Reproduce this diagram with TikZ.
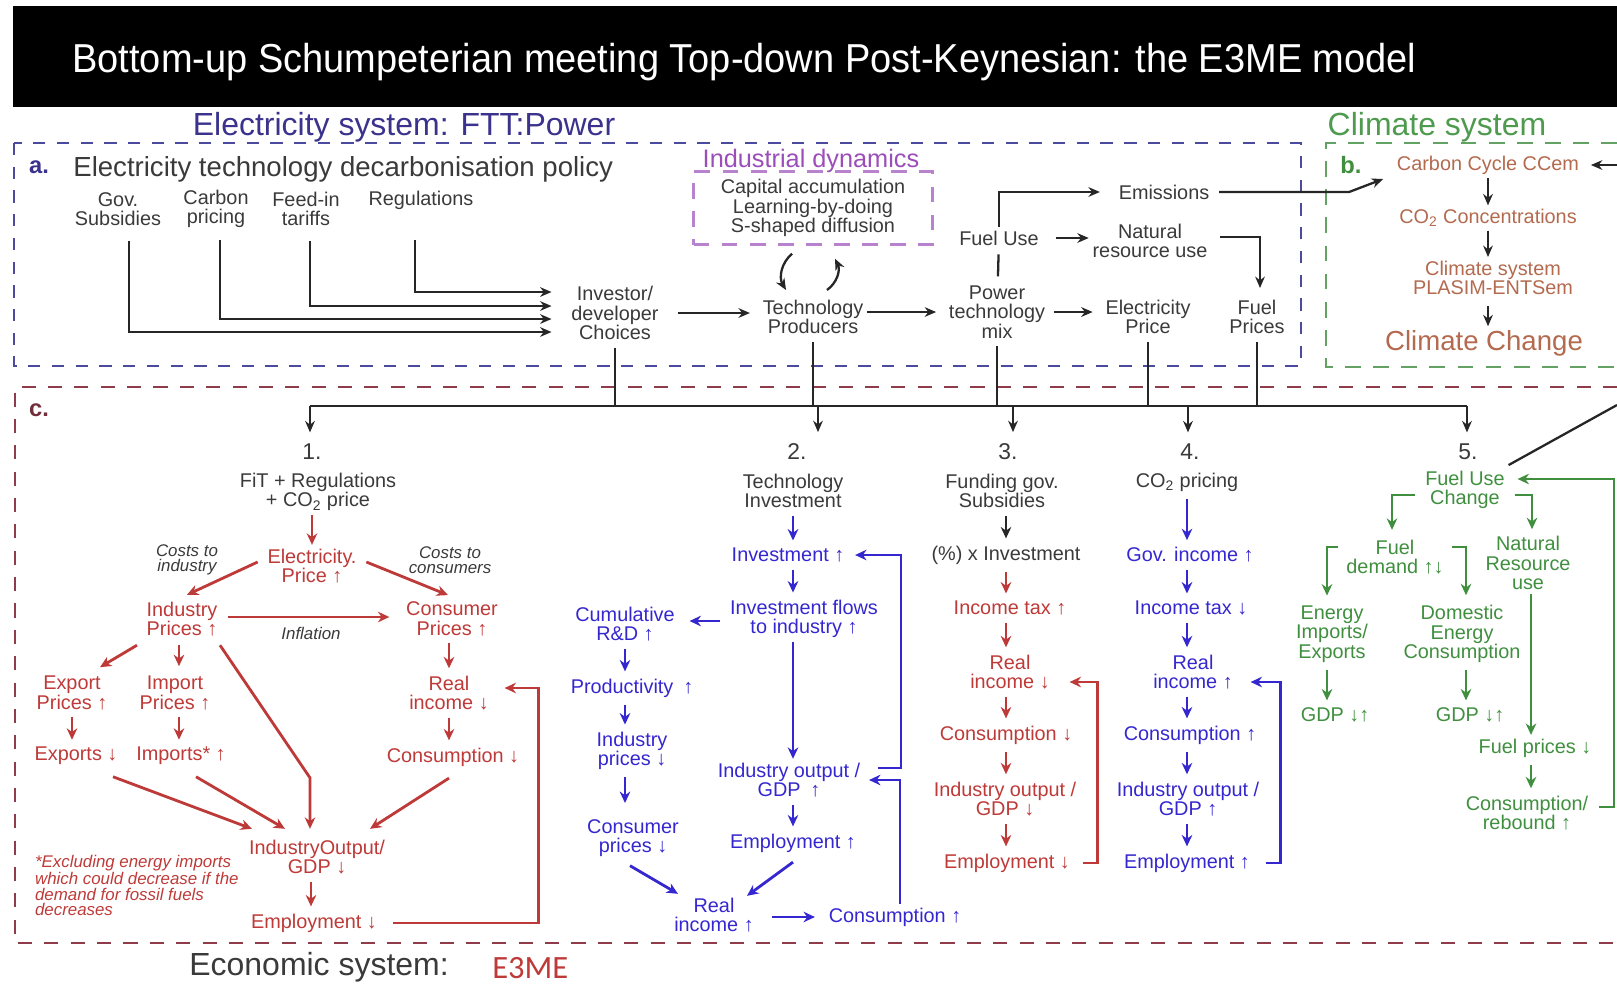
\documentclass[tikz,border=0pt]{standalone}
\usepackage{fontspec}
\setmainfont{Liberation Sans}
\newfontfamily\titlefont[FakeStretch=0.94]{Liberation Sans}
\newfontfamily\calfont{Carlito}
\usetikzlibrary{positioning,calc,arrows.meta}

\definecolor{fttblue}{HTML}{3A328C}
\definecolor{dasha}{HTML}{4B4A9E}
\definecolor{climgreen}{HTML}{4E9A4E}
\definecolor{dashb}{HTML}{62A262}
\definecolor{dashc}{HTML}{8E3B4A}
\definecolor{ered}{HTML}{BE3A38}
\definecolor{eblue}{HTML}{3527D0}
\definecolor{egreen}{HTML}{3F8F3F}
\definecolor{sienna}{HTML}{B36A4E}
\definecolor{dynpurple}{HTML}{9B4DB8}
\definecolor{txtgray}{HTML}{3A3A3A}

\newcommand{\itemfont}{\fontsize{11.3}{11.2}\selectfont}
\newcommand{\notefont}{\fontsize{9.6}{8.8}\selectfont\itshape}

\begin{document}
\begin{tikzpicture}[x=0.02cm, y=-0.02cm,
      itm/.style      = {align=center, inner sep=2pt, font=\itemfont, text=txtgray},
      redtxt/.style   = {itm, text=ered},
      bluetxt/.style  = {itm, text=eblue},
      greentxt/.style = {itm, text=egreen},
      cctxt/.style    = {itm, text=sienna},
      note/.style     = {align=center, inner sep=1pt, font=\notefont, text=txtgray},
      num/.style      = {inner sep=1pt, font=\fontsize{13}{13}\selectfont, text=txtgray},
      sect/.style     = {inner sep=0pt, font=\fontsize{18.2}{18}\selectfont},
      tag/.style      = {inner sep=0pt, font=\fontsize{13.5}{13}\selectfont\bfseries},
      blk/.style      = {draw=black!85, line width=1.3pt},
      blkarr/.style   = {blk, -{Stealth[length=6.5pt, width=5.5pt]}},
      colarr/.style   = {line width=1.6pt, -{Stealth[length=6.5pt, width=6pt]}},
      redarr/.style   = {colarr, draw=ered},
      bluearr/.style  = {colarr, draw=eblue},
      greenarr/.style = {colarr, draw=egreen, line width=1.4pt},
      blkcol/.style   = {colarr, draw=black!85},
      colgap/.style   = {shorten <=2pt, shorten >=2pt},
      dashbox/.style  = {line width=1.5pt, dash pattern=on 7pt off 6.5pt}]

   \useasboundingbox (0,0) rectangle (1617,985);

   % title bar
   \fill[black] (13,6) rectangle (1617,107);
   \node[anchor=base west, inner sep=0pt, text=white,
      font=\titlefont\fontsize{23}{23}\selectfont] (title) at (72,72)
      {Bottom-up Schumpeterian meeting Top-down Post-Keynesian: the E3ME model};

   % the three systems
   \draw[dashbox, draw=dasha] (14,143) rectangle (1301,366);
   \draw[dashbox, draw=dashb, dash pattern=on 9pt off 7pt]
      (1617,143) -- (1326,143) -- (1326,367) -- (1617,367);
   \draw[dashbox, draw=dashc, dash pattern=on 8pt off 7pt]
      (1617,387) -- (15,387) -- (15,943) -- (1617,943);

   \node[sect, text=fttblue, anchor=base] (ftt) at (404,135) {Electricity system: FTT:Power};
   \node[sect, text=climgreen, anchor=base] (clim) at (1437,135) {Climate system};
   \node[sect, text=txtgray, anchor=base west] (econ) at (189,975) {Economic system:};
   \node[anchor=base west, inner sep=0pt, text=ered,
      font=\calfont\fontsize{18.5}{18}\selectfont] (e3me) at (492,978) {E3ME};

   \node[tag, text=fttblue] (taga) at (39,167) {a.};
   \node[tag, text=egreen] (tagb) at (1351,165) {b.};
   \node[tag, text=dashc!80!black] (tagc) at (39,410) {c.};

   % a. electricity sector
   \node[anchor=base west, inner sep=0pt, text=txtgray,
      font=\fontsize{15.7}{15}\selectfont] (policy) at (73,176)
      {Electricity technology decarbonisation policy};

   \node[itm] (gov)    at (118,209) {Gov.\\Subsidies};
   \node[itm] (carbon) at (216,209) {Carbon\\pricing};
   \node[itm] (feedin) at (306,209) {Feed-in\\tariffs};
   \node[itm] (regs)   at (421,200) {Regulations};

   \node[itm] (invest)    at (615,313) {Investor/\\developer\\Choices};
   \node[itm] (techprod)  at (813,317) {Technology\\Producers};
   \node[itm] (powermix)  at (997,312) {Power\\technology\\mix};
   \node[itm] (elprice)   at (1148,317) {Electricity\\Price};
   \node[itm] (fuelprice) at (1257,317) {Fuel\\Prices};
   \node[itm] (fueluse)   at (999,238) {Fuel Use};
   \node[itm] (emis)      at (1164,192) {Emissions};
   \node[itm] (natres)    at (1150,241) {Natural\\resource use};

   \node[anchor=base, inner sep=0pt, text=dynpurple,
      font=\fontsize{14.4}{14}\selectfont] (dynlbl) at (811,167) {Industrial dynamics};
   \node[itm, draw=dynpurple!70, line width=1.4pt, dash pattern=on 9pt off 7pt,
      minimum width=4.78cm, minimum height=1.46cm] (dyn) at (813,208)
      {Capital accumulation\\Learning-by-doing\\S-shaped diffusion};

   % policy instruments into investor choices
   \draw[blkarr] ($(gov.south)+(11,11)$)    |- ($(invest.west)+(-16,19)$);
   \draw[blkarr] ($(carbon.south)+(4,8)$)   |- ($(invest.west)+(-16,6)$);
   \draw[blkarr] ($(feedin.south)+(4,11)$)  |- ($(invest.west)+(-16,-7)$);
   \draw[blkarr] ($(regs.south)+(-6,27)$)   |- ($(invest.west)+(-16,-21)$);

   \draw[blkarr] ($(invest.east)+(16,0)$) -- ($(techprod.west |- invest.east)+(-9,0)$);
   \draw[blkarr] (techprod.east |- powermix.west) -- ($(powermix.west)+(-9,0)$);
   \draw[blkarr] ($(powermix.east)+(5,0)$) -- ($(elprice.west |- powermix.east)+(-9,0)$);
   \draw[blk, shorten <=3pt, shorten >=3pt] (powermix) -- (fueluse);
   \draw[blkarr] (fueluse.north) |- ($(emis.west)+(-15,0)$);
   \draw[blkarr] ($(fueluse.east)+(13,0)$) -- (natres.west |- fueluse.east);
   \draw[blkarr] ($(natres.east)+(9,-4)$) -| ($(fuelprice.north)+(3,-8)$);

   % learning loop
   \draw[blkarr] ($(dyn.south)+(-21,8)$) to[bend right=40] ($(techprod.north)+(-27,-6)$);
   \draw[blkarr] ($(techprod.north)+(14,-6)$) to[bend right=40] ($(dyn.south)+(22,13)$);

   % b. climate system
   \node[cctxt] (ccycle)  at (1488,165) {Carbon Cycle CCem};
   \node[cctxt] (co2conc) at (1488,218) {CO\textsubscript{2} Concentrations};
   \node[cctxt] (climsys) at (1493,278) {Climate system\\PLASIM-ENTSem};
   \node[cctxt, font=\fontsize{15.7}{15}\selectfont] (climchg) at (1484,343) {Climate Change};

   \draw[blkarr] ($(emis.east)+(6,0)$) -- ++(130,0) -- ($(ccycle.west)+(-10,14)$);
   \coordinate (ccin) at (1617,165);
   \draw[blkarr] (ccin) -- ($(ccycle.east)+(8,0)$);
   \draw[blkarr] (ccycle.south) -- (co2conc.north);
   \draw[blkarr] (co2conc.south) -- (ccycle |- climsys.north);
   \draw[blkarr, shorten <=4pt] (ccycle |- climsys.south) -- (ccycle |- climchg.north);

   % bus down to the five channels
   \coordinate (bus1) at (310,406);
   \coordinate (bus2) at (818,406);
   \coordinate (bus3) at (1013,406);
   \coordinate (bus4) at (1188,406);
   \coordinate (bus5) at (1467,406);
   \draw[blk] (bus1) -- (bus5);
   \foreach \n in {invest, techprod, powermix, elprice, fuelprice}
      \draw[blk] ($(\n.south)+(0,4)$) -- (\n.south |- bus1);

   \node[num, anchor=base] (num1) at (312,459) {1.};
   \node[num, anchor=base] (num2) at (797,459) {2.};
   \node[num, anchor=base] (num3) at (1008,459) {3.};
   \node[num, anchor=base] (num4) at (1190,459) {4.};
   \node[num, anchor=base] (num5) at (1468,459) {5.};
   \foreach \k in {1,...,5}
      \draw[blkarr, shorten >=5pt] (bus\k) -- (bus\k |- num\k.north);

   % c.1 FiT, regulations and carbon price
   \node[itm]    (fit)     at (318,492) {FiT + Regulations\\+ CO\textsubscript{2} price};
   \node[redtxt] (elec)    at (312,566) {Electricity.\\Price ↑};
   \node[note]   (cti)     at (187,560) {Costs to\\industry};
   \node[note]   (ctc)     at (450,560) {Costs to\\consumers};
   \node[redtxt] (indp)    at (182,619) {Industry\\Prices ↑};
   \node[redtxt] (conp)    at (452,619) {Consumer\\Prices ↑};
   \node[note]   (infl)    at (311,633) {Inflation};
   \node[redtxt] (expp)    at (72,693)  {Export\\Prices ↑};
   \node[redtxt] (impp)    at (175,693) {Import\\Prices ↑};
   \node[redtxt] (exps)    at (76,756)  {Exports ↓};
   \node[redtxt] (imps)    at (181,756) {Imports* ↑};
   \node[redtxt] (real1)   at (449,693) {Real\\income ↓};
   \node[redtxt] (cons1)   at (453,757) {Consumption ↓};
   \node[redtxt] (indout1) at (317,857) {IndustryOutput/\\GDP ↓};
   \node[redtxt] (emp1)    at (314,923) {Employment ↓};
   \node[note, text=ered, align=left, anchor=north west] (foot) at (33,853)
      {*Excluding energy imports\\which could decrease if the\\demand for fossil fuels\\decreases};

   \draw[redarr] (fit.south -| elec.north) -- (elec.north);
   \draw[redarr] ($(elec.west)+(-6,-4)$) -- ($(indp.north)+(5,-3)$);
   \draw[redarr] ($(elec.east)+(6,-4)$) -- ($(conp.north)+(-4,-3)$);
   \draw[redarr] ($(indp.east)+(7,-2)$) -- ($(conp.west)+(-13,-2)$);
   \draw[redarr] ($(indp.south)+(-45,5)$) -- ($(expp.north)+(28,-5)$);
   \draw[redarr] ($(indp.south)+(-3,5)$) -- ($(impp.north)+(4,-6)$);
   \draw[redarr] ($(indp.south)+(38,5)$) -- ($(indout1.north)+(-7,-58)$)
      -- ($(indout1.north)+(-7,-7)$);
   \draw[redarr, colgap] (conp.south -| real1.north) -- (real1.north);
   \draw[redarr, colgap] (expp.south) -- (expp.south |- exps.north);
   \draw[redarr, colgap] ($(impp.south)+(4,0)$) -- ($(impp.south |- imps.north)+(4,0)$);
   \draw[redarr, colgap] (real1.south) -- (real1.south |- cons1.north);
   \draw[redarr] ($(exps.south)+(37,8)$) -- ($(indout1.north)+(-65,-7)$);
   \draw[redarr] ($(imps.south)+(15,8)$) -- ($(indout1.north)+(-32,-7)$);
   \draw[redarr] ($(cons1.south)+(-4,8)$) -- ($(indout1.north)+(53,-7)$);
   \draw[redarr, colgap] ($(indout1.south)+(-6,0)$) -- ($(indout1.south |- emp1.north)+(-6,0)$);
   \draw[redarr] ($(emp1.east)+(12,0)$) -- ++(146,0) |- ($(real1.east)+(12,-5)$);

   % c.2 technology investment
   \node[itm]     (techinv) at (793,491) {Technology\\Investment};
   \node[bluetxt] (inv2)    at (788,555) {Investment ↑};
   \node[bluetxt] (flows)   at (804,619) {Investment flows\\to industry ↑};
   \node[bluetxt] (cumrd)   at (625,624) {Cumulative\\R\&D ↑};
   \node[bluetxt] (prod)    at (632,688) {Productivity\enspace↑};
   \node[bluetxt] (indpr2)  at (632,751) {Industry\\prices ↓};
   \node[bluetxt] (conpr2)  at (633,838) {Consumer\\prices ↓};
   \node[bluetxt] (real2)   at (714,915) {Real\\income ↑};
   \node[bluetxt] (indout2) at (789,780) {Industry output /\\GDP\enspace↑};
   \node[bluetxt] (emp2)    at (793,843) {Employment ↑};
   \node[bluetxt] (cons2)   at (895,917) {Consumption ↑};

   \draw[bluearr, colgap] (techinv) -- (techinv |- inv2.north);
   \draw[bluearr, colgap] (inv2.south -| techinv) -- (techinv |- flows.north);
   \draw[bluearr] ($(flows.west)+(-6,2)$) -- ($(cumrd.east |- flows.west)+(11,2)$);
   \draw[bluearr, colgap] (cumrd.south) -- (cumrd.south |- prod.north);
   \draw[bluearr, colgap] (cumrd.south |- prod.south) -- (cumrd.south |- indpr2.north);
   \draw[bluearr, shorten <=2pt, shorten >=7pt] (cumrd.south |- indpr2.south)
      -- (cumrd.south |- conpr2.north);
   \draw[bluearr] ($(conpr2.south)+(-3,5)$) -- ($(real2.north)+(-36,0)$);
   \draw[bluearr] ($(emp2.south)+(0,6)$) -- ($(real2.north)+(33,2)$);
   \draw[bluearr] ($(real2.east)+(14,2)$) -- ($(cons2.west)+(-10,0)$);
   \draw[bluearr] (flows.south -| techinv) -- (techinv |- indout2.north);
   \draw[bluearr, colgap] (indout2.south -| techinv) -- (techinv |- emp2.north);
   \draw[bluearr] ($(indout2.east)+(14,-12)$) -- ++(23,0) |- ($(inv2.east)+(7,0)$);
   \draw[bluearr] ($(cons2.north)+(5,0)$) |- ($(indout2.east)+(5,0)$);

   % c.3 funding of subsidies
   \node[itm]    (fund)  at (1002,491) {Funding gov.\\Subsidies};
   \node[itm]    (pct)   at ($(fund)+(4,64)$) {(\%) x Investment};
   \node[redtxt] (itax3) at ($(pct)+(4,53)$) {Income tax ↑};
   \node[redtxt] (real3) at ($(itax3)+(0,64)$) {Real\\income ↓};
   \node[redtxt] (cons3) at ($(real3)+(-4,63)$) {Consumption ↓};
   \node[redtxt] (ind3)  at ($(cons3)+(-1,64)$) {Industry output /\\GDP ↓};
   \node[redtxt] (emp3)  at ($(ind3)+(2,64)$) {Employment ↓};

   \draw[blkcol, colgap] (fund.south -| pct) -- (pct.north);
   \foreach \a/\b in {pct/itax3, itax3/real3, real3/cons3, cons3/ind3, ind3/emp3}
      \draw[redarr, colgap] (\a.south -| pct) -- (pct |- \b.north);
   \draw[redarr] ($(emp3.east)+(9,0)$) -- ++(15,0) |- ($(real3.east)+(16,10)$);

   % c.4 carbon pricing
   \node[itm]     (co2p)   at (1187,482) {CO\textsubscript{2} pricing};
   \node[bluetxt] (govinc) at ($(co2p)+(3,73)$) {Gov. income ↑};
   \node[bluetxt] (itax4)  at ($(govinc)+(1,53)$) {Income tax ↓};
   \node[bluetxt] (real4)  at ($(itax4)+(2,64)$) {Real\\income ↑};
   \node[bluetxt] (cons4)  at ($(real4)+(-3,63)$) {Consumption ↑};
   \node[bluetxt] (ind4)   at ($(cons4)+(-2,64)$) {Industry output /\\GDP ↑};
   \node[bluetxt] (emp4)   at ($(ind4)+(-1,64)$) {Employment ↑};

   \foreach \a/\b in {co2p/govinc, govinc/itax4, itax4/real4, real4/cons4, cons4/ind4, ind4/emp4}
      \draw[bluearr, colgap] (\a.south -| co2p) -- (co2p |- \b.north);
   \draw[bluearr] ($(emp4.east)+(12,0)$) -- ++(15,0) |- ($(real4.east)+(14,10)$);

   % c.5 fuel use change
   \node[greentxt] (fuchg)   at (1465,490) {Fuel Use\\Change};
   \node[greentxt] (fdem)    at (1395,557) {Fuel\\demand ↑↓};
   \node[greentxt] (natres5) at (1528,563) {Natural\\Resource\\use};
   \node[greentxt] (enimp)   at (1332,634) {Energy\\Imports/\\Exports};
   \node[greentxt] (domen)   at (1462,634) {Domestic\\Energy\\Consumption};
   \node[greentxt] (gdp5a)   at (1335,715) {GDP ↓↑};
   \node[greentxt] (gdp5b)   at (1470,715) {GDP ↓↑};
   \node[greentxt] (fprice5) at (1535,748) {Fuel prices ↓};
   \node[greentxt] (rebound) at (1527,813) {Consumption/\\rebound ↑};

   \draw[greenarr] ($(fuchg.west)+(-6,5)$) -| ($(fdem.north)+(-3,-6)$);
   \draw[greenarr] ($(fuchg.east)+(6,5)$) -| ($(natres5.north)+(4,-3)$);
   \draw[greenarr] ($(fdem.west)+(-5,-10)$) -| ($(enimp.north)+(-5,-6)$);
   \draw[greenarr] ($(fdem.east)+(5,-10)$) -| ($(domen.north)+(4,-6)$);
   \draw[greenarr, colgap] ($(enimp.south)+(-5,0)$) -- ($(enimp.south |- gdp5a.north)+(-5,0)$);
   \draw[greenarr, colgap] ($(domen.south)+(4,0)$) -- ($(domen.south |- gdp5b.north)+(4,0)$);
   \draw[greenarr] ($(natres5.south)+(3,0)$) -- ($(natres5.south |- fprice5.north)+(3,0)$);
   \draw[greenarr, colgap] ($(natres5 |- fprice5.south)+(3,0)$) -- ($(natres5 |- rebound.north)+(3,0)$);
   \draw[greenarr] ($(rebound.east)+(7,-6)$) -- ++(15,0) |- ($(fuchg.east)+(9,-11)$);

   \coordinate (fuout) at (1617,405);
   \draw[blk] ($(fuchg.north east)+(0,-2)$) -- (fuout);

\end{tikzpicture}
\end{document}
